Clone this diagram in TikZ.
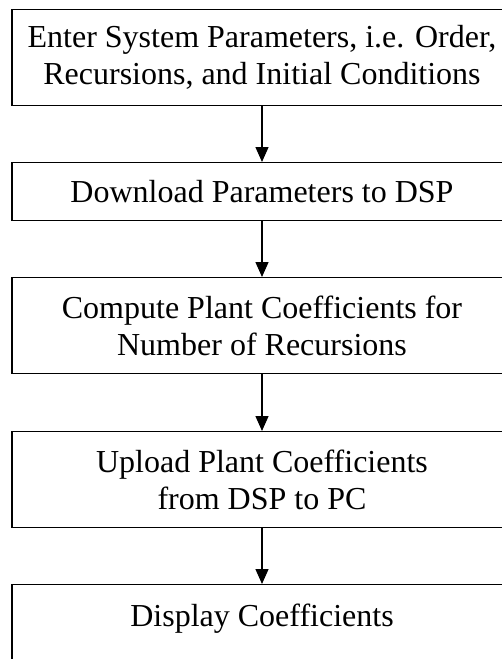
\documentclass[tikz,border=0pt]{standalone}
\usepackage{fontspec}
\setmainfont{Liberation Serif}
\usetikzlibrary{arrows.meta}
\begin{document}
\begin{tikzpicture}[x=1pt,y=-1pt,
  stepbox/.style={draw=black, line width=1.3pt, minimum width=500pt, inner sep=0pt,
    align=center, font=\fontsize{32}{37}\selectfont, anchor=north},
  conn/.style={line width=1.3pt, -{Triangle[width=13pt,length=15pt]}}]
\useasboundingbox (0,0) rectangle (502,659);
\clip (0,0) rectangle (502,659);
\node[stepbox, minimum height=96pt] (b1) at (262,9) {Enter System Parameters, i.e. Order,\\Recursions, and Initial Conditions};
\node[stepbox, minimum height=58pt] (b2) at (262,162) {Download Parameters to DSP};
\node[stepbox, minimum height=96pt] (b3) at (262,277) {Compute Plant Coefficients for\\Number of Recursions};
\node[stepbox, minimum height=96pt] (b4) at (262,431) {Upload Plant Coefficients\\from DSP to PC};
\node[stepbox, minimum height=120pt,
  label={[anchor=north, inner sep=0pt, font=\fontsize{32}{37}\selectfont, yshift=-20pt]north:Display Coefficients}] (b5) at (262,584) {};
\draw[conn] (b1.south) -- (b2.north);
\draw[conn] (b2.south) -- (b3.north);
\draw[conn] (b3.south) -- (b4.north);
\draw[conn] (b4.south) -- (b5.north);
\end{tikzpicture}
\end{document}
